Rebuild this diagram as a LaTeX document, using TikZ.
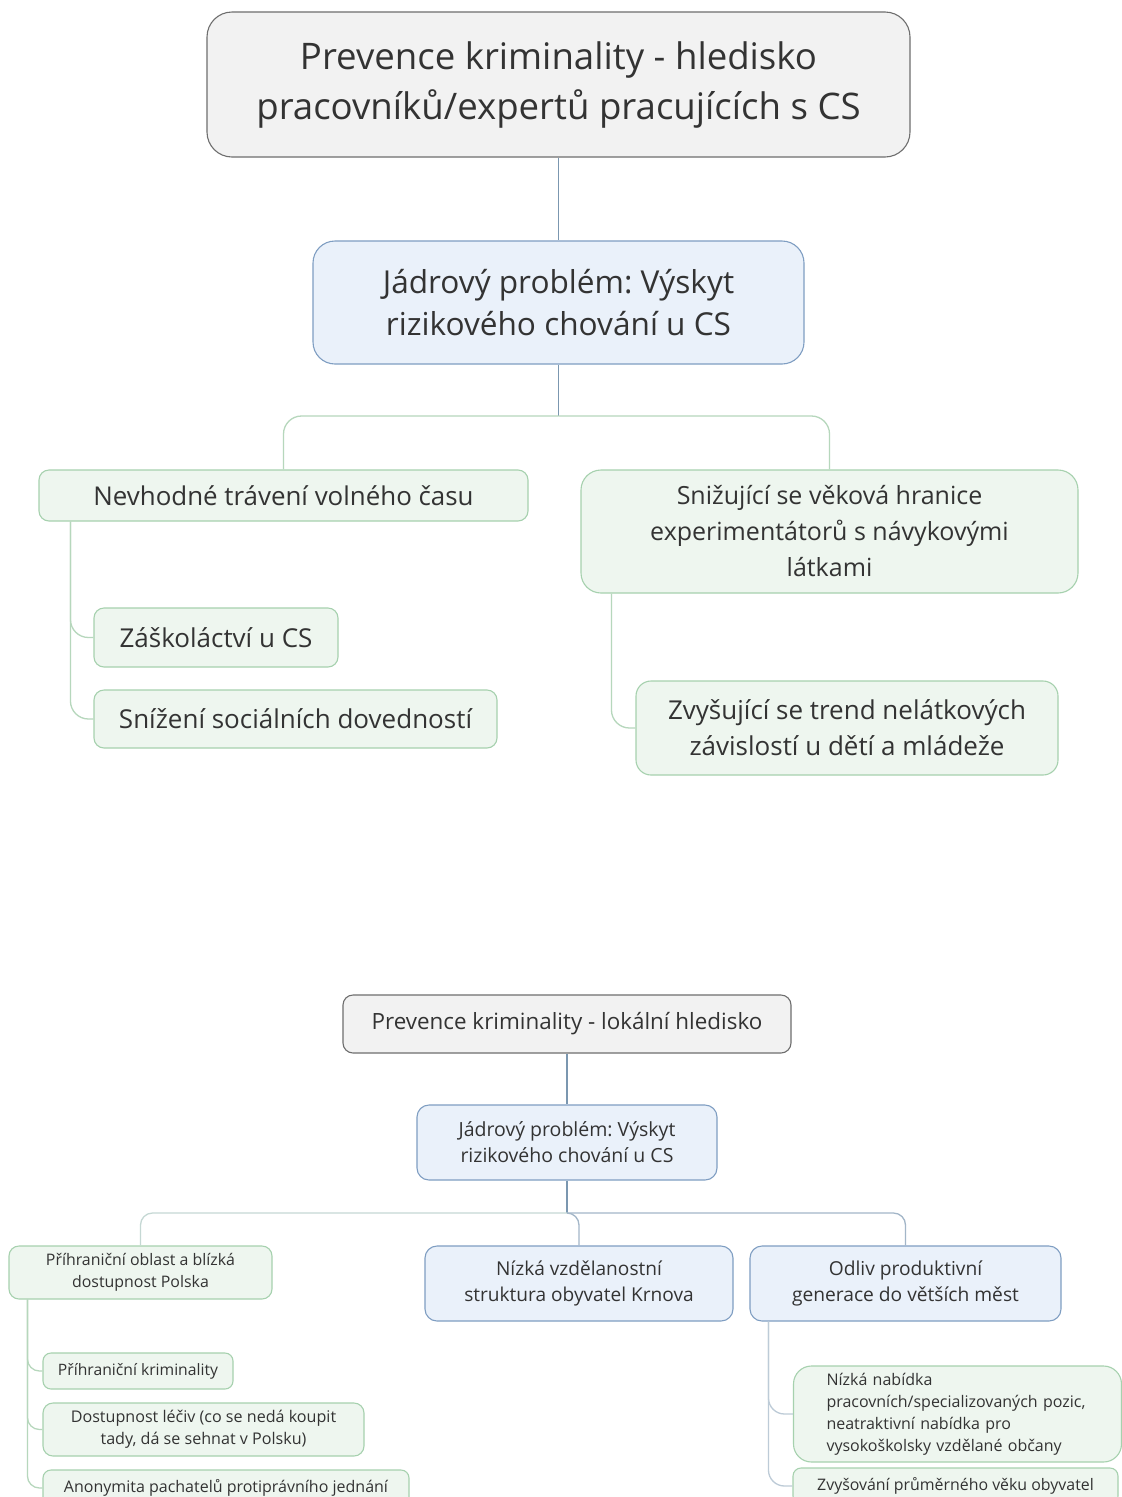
\documentclass[tikz,border=0pt]{standalone}
\usepackage{fontspec}
\setmainfont{Open Sans}
\usepackage{xcolor}
\usepackage{tikz}
\frenchspacing

\definecolor{txt}{HTML}{333333}
\definecolor{rootfill}{HTML}{F2F2F2}
\definecolor{rootline}{HTML}{6E6E6E}
\definecolor{corefill}{HTML}{EAF1FA}
\definecolor{coreline}{HTML}{7F9EC2}
\definecolor{causefill}{HTML}{EEF6EF}
\definecolor{causeline}{HTML}{A6D1AE}
\definecolor{trunkline}{HTML}{7B97B0}
\definecolor{branchline}{HTML}{B6D7BC}

\tikzset{
    box/.style={rectangle, rounded corners=10pt, draw, line width=1.1pt, inner sep=0pt, align=center, text=txt},
    rootbox/.style={box, draw=rootline, fill=rootfill},
    corebox/.style={box, draw=coreline, fill=corefill},
    causebox/.style={box, draw=causeline, fill=causefill},
    trunk/.style={draw=trunkline, line width=1.3pt},
    branch/.style={draw=branchline, line width=1.3pt, rounded corners=18pt}
}

\begin{document}
\begin{tikzpicture}[x=1pt, y=-1pt]
    \useasboundingbox (0,0) rectangle (1122,1497);
    \clip (0,0) rectangle (1122,1497);
    \fill[white] (0,0) rectangle (1122,1497);

    % hledisko pracovniku
    \node[rootbox, rounded corners=25pt, minimum width=703pt, minimum height=145pt, font=\fontsize{36.6}{50}\selectfont] (T1) at (558.5,84.5)
        {Prevence kriminality - hledisko\\pracovníků/expertů pracujících s CS};
    \node[corebox, rounded corners=22pt, minimum width=491pt, minimum height=123pt, font=\fontsize{31.6}{42}\selectfont, below of=T1, node distance=218pt] (B1)
        {Jádrový problém: Výskyt\\rizikového chování u CS};
    \coordinate[below of=B1, node distance=113.5pt] (J1);
    \node[causebox, minimum width=489pt, minimum height=51pt, font=\fontsize{25.9}{36}\selectfont, below of=B1, node distance=193pt, xshift=-275pt] (N1)
        {Nevhodné trávení volného času};
    \node[causebox, rounded corners=20pt, minimum width=497pt, minimum height=123pt, font=\fontsize{25}{36}\selectfont, right of=N1, node distance=546pt, yshift=-36pt] (S1)
        {Snižující se věková hranice\\experimentátorů s návykovými\\látkami};
    \node[causebox, minimum width=244pt, minimum height=59pt, font=\fontsize{26}{36}\selectfont, below of=N1, node distance=142pt, xshift=-67.5pt] (Z1)
        {Záškoláctví u CS};
    \node[causebox, minimum width=403pt, minimum height=58pt, font=\fontsize{26}{36}\selectfont, below of=Z1, node distance=81.5pt, xshift=79.5pt] (S2)
        {Snížení sociálních dovedností};
    \node[causebox, rounded corners=15pt, minimum width=422pt, minimum height=94pt, font=\fontsize{26}{36}\selectfont, below of=S1, node distance=196.5pt, xshift=17.5pt] (Z2)
        {Zvyšující se trend nelátkových\\závislostí u dětí a mládeže};

    \draw[trunk] (T1.south) -- (B1.north);
    \draw[trunk] (B1.south) -- (J1);
    \draw[branch] (J1) -| (N1.north);
    \draw[branch] (J1) -| (S1.north);
    \draw[branch] ([xshift=32pt]N1.south west) |- (Z1.west);
    \draw[branch] ([xshift=32pt]N1.south west) |- (S2.west);
    \draw[branch] ([xshift=31pt]S1.south west) |- (Z2.west);

    % lokalni hledisko
    \node[rootbox, minimum width=448pt, minimum height=58pt, font=\fontsize{22.4}{28}\selectfont, below of=T1, node distance=939.5pt, xshift=8.5pt] (T2)
        {Prevence kriminality - lokální hledisko};
    \node[corebox, rounded corners=12pt, minimum width=300pt, minimum height=75pt, font=\fontsize{19.5}{26}\selectfont, below of=T2, node distance=118.5pt] (B2)
        {Jádrový problém: Výskyt\\rizikového chování u CS};
    \coordinate[below of=B2, node distance=70.5pt] (J2);
    \node[corebox, rounded corners=12pt, minimum width=308pt, minimum height=75pt, font=\fontsize{19.1}{26}\selectfont, below of=B2, node distance=141pt, xshift=12pt] (N2)
        {Nízká vzdělanostní\\struktura obyvatel Krnova};
    \node[causebox, minimum width=263pt, minimum height=53pt, font=\fontsize{15.9}{22}\selectfont, left of=N2, node distance=438.5pt, yshift=11pt] (P1)
        {Příhraniční oblast a blízká\\dostupnost Polska};
    \node[corebox, rounded corners=12pt, minimum width=311pt, minimum height=75pt, font=\fontsize{19.2}{26}\selectfont, right of=N2, node distance=326.5pt] (O1)
        {Odliv produktivní\\generace do větších měst};
    \node[causebox, rounded corners=8pt, minimum width=190pt, minimum height=36pt, font=\fontsize{15.7}{22}\selectfont, below of=P1, node distance=98.5pt, xshift=-2.5pt] (P2)
        {Příhraniční kriminality};
    \node[causebox, minimum width=321pt, minimum height=53pt, font=\fontsize{16.1}{22}\selectfont, below of=P2, node distance=58.5pt, xshift=65.5pt] (D1)
        {Dostupnost léčiv (co se nedá koupit\\tady, dá se sehnat v Polsku)};
    \node[causebox, rounded corners=8pt, minimum width=366pt, minimum height=36pt, font=\fontsize{16}{22}\selectfont, below of=D1, node distance=58.5pt, xshift=22.5pt] (A1)
        {Anonymita pachatelů protiprávního jednání};
    \node[causebox, rounded corners=18pt, align=left, text width=262pt, inner xsep=33pt, minimum height=96pt, font=\fontsize{16}{22}\selectfont, below of=O1, node distance=130.5pt, xshift=52pt] (N3)
        {Nízká nabídka\\pracovních/specializovaných pozic,\\neatraktivní nabídka pro\\vysokoškolsky vzdělané občany};
    \node[causebox, rounded corners=8pt, minimum width=325pt, minimum height=36pt, font=\fontsize{15.9}{22}\selectfont, below of=N3, node distance=72pt, xshift=-2pt] (Z3)
        {Zvyšování průměrného věku obyvatel};

    \draw[trunk] (T2.south) -- (B2.north);
    \draw[trunk] (B2.south) -- (J2);
    \draw[branch, draw=branchline!60!trunkline!60, rounded corners=12pt] (J2) -| (P1.north);
    \draw[trunk, draw=trunkline!70, rounded corners=12pt] (J2) -| (N2.north);
    \draw[trunk, draw=trunkline!70, rounded corners=12pt] (J2) -| (O1.north);
    \draw[branch, rounded corners=12pt] ([xshift=19pt]P1.south west) |- (P2.west);
    \draw[branch, rounded corners=12pt] ([xshift=19pt]P1.south west) |- (D1.west);
    \draw[branch, rounded corners=12pt] ([xshift=19pt]P1.south west) |- (A1.west);
    \draw[branch, draw=trunkline!50, rounded corners=16pt] ([xshift=19pt]O1.south west) |- (N3.west);
    \draw[branch, draw=trunkline!50, rounded corners=16pt] ([xshift=19pt]O1.south west) |- (Z3.west);
\end{tikzpicture}
\end{document}
